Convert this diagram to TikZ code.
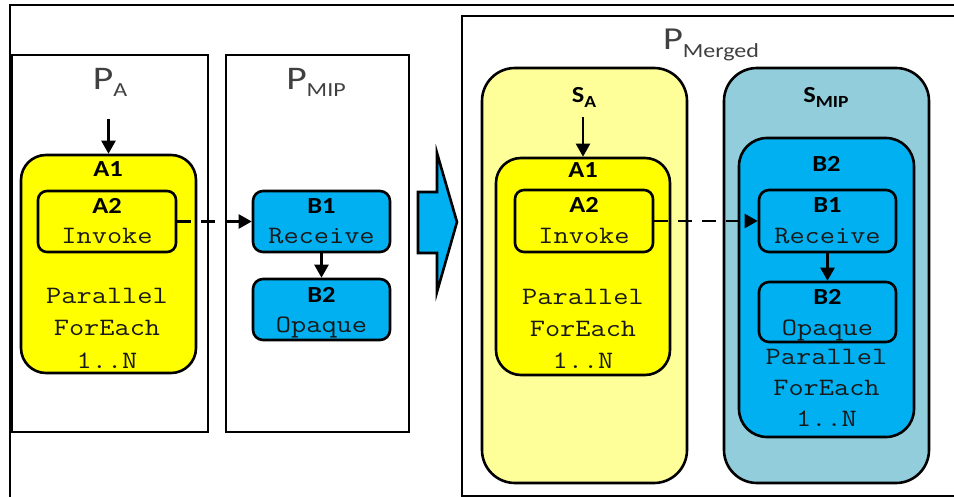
\documentclass[tikz,border=0pt]{standalone}
\usepackage{fontspec}
\usepackage{graphicx}
\setmainfont{Carlito}
\usetikzlibrary{arrows.meta}
\definecolor{actblue}{HTML}{00B0F0}
\definecolor{actyellow}{HTML}{FFFF00}
\definecolor{scopeyellow}{HTML}{FFFF99}
\definecolor{scopeblue}{HTML}{92CDDC}
\definecolor{titlegray}{HTML}{404040}
% the lettering is set slightly wide
\newcommand{\wide}[1]{\scalebox{1.15}[1]{#1}}
\newcommand{\cwide}[1]{\scalebox{1.18}[1]{#1}}
\tikzset{
  procbox/.style={draw, line width=2.6pt, inner sep=0pt},
  actbox/.style={draw, line width=2.6pt, inner sep=0pt},
  code/.style={anchor=base, inner sep=0pt, text=black!90, font=\ttfamily\fontsize{25}{25}\selectfont},
  tag/.style={anchor=base, inner sep=0pt, font=\bfseries\fontsize{23}{23}\selectfont},
  ptitle/.style={anchor=base, inner sep=0pt, text=titlegray},
  flow/.style={line width=2.4pt, -{Triangle[length=13pt,width=14pt]}},
  msg/.style={flow, dash pattern=on 14pt off 10pt},
}
\newcommand{\ptext}[2]{\scalebox{1.2}[1]{{\fontsize{33}{33}\selectfont #1}\raisebox{-7pt}{\fontsize{20}{20}\selectfont #2}}}
\newcommand{\stext}[2]{\wide{{\bfseries\fontsize{23}{23}\selectfont #1}\raisebox{-5pt}{\bfseries\fontsize{17}{17}\selectfont #2}}}
\begin{document}
\begin{tikzpicture}[x=1pt,y=-1pt]
\clip (0,0) rectangle (954,497);
\fill[white] (0,0) rectangle (954,497);

% surrounding frame and the three process frames
\draw[line width=1.8pt] (10,5) rectangle (1000,560);
\node[procbox, minimum width=196pt, minimum height=377pt] (pa) at (110,243.5) {};
\node[procbox, minimum width=183pt, minimum height=377pt] (pmip) at (317.5,243.5) {};
\draw[line width=2.4pt] (462,16) rectangle (1000,496);

% process titles
\node[ptitle] (pa-t) at (110,90) {\ptext{P}{A}};
\node[ptitle] (pmip-t) at (316,90) {\ptext{P}{MIP}};
\node[ptitle] (pm-t) at (711,50) {\scalebox{1.2}[1]{{\fontsize{32}{32}\selectfont P}\raisebox{-8pt}{\fontsize{20}{20}\selectfont Merged}}};

% ---- process A ----
\node[actbox, fill=actyellow, rounded corners=25pt, minimum width=175pt, minimum height=218pt] (a1) at (108.5,264) {};
\node[actbox, rounded corners=9pt, minimum width=138pt, minimum height=61pt] (a2) at (107,221.5) {};
\node[tag] (a1-t) at (108,177) {\wide{A1}};
\node[tag] (a2-t) at (107,214) {\wide{A2}};
\node[code] (a2-c) at (107,244) {\cwide{Invoke}};
\node[code] (a1-c1) at (107,304) {\cwide{Parallel}};
\node[code] (a1-c2) at (107,336) {\cwide{ForEach}};
\node[code] (a1-c3) at (107,368) {\cwide{1..N}};
\coordinate (pa-in) at (108.5,119);
\draw[flow] (pa-in) -- (a1.north);

% ---- process MIP ----
\node[actbox, fill=actblue, rounded corners=10pt, minimum width=137pt, minimum height=61pt] (b1) at (321.5,221.5) {};
\node[actbox, fill=actblue, rounded corners=10pt, minimum width=137pt, minimum height=61pt] (b2) at (321.5,309.5) {};
\node[tag] (b1-t) at (321.5,214) {\wide{B1}};
\node[code] (b1-c) at (321.5,244) {\cwide{Receive}};
\node[tag] (b2-t) at (321.5,303) {\wide{B2}};
\node[code] (b2-c) at (321.5,333) {\cwide{Opaque}};
\draw[flow] (b1) -- (b2);
\draw[msg] (a2) -- (b1);

% ---- merge arrow ----
\draw[line width=2.6pt, fill=actblue, line join=miter]
  (418,192) -- (437,192) -- (437,153) -- (457,222) -- (437,292) -- (437,253) -- (418,253) -- cycle;

% ---- merged process ----
\node[actbox, fill=scopeyellow, rounded corners=33pt, minimum width=205pt, minimum height=415pt] (sa) at (584.5,275.5) {};
\node[actbox, fill=scopeblue, rounded corners=33pt, minimum width=205pt, minimum height=415pt] (smip) at (826.5,275.5) {};
\node[anchor=base, inner sep=0pt] (sa-t) at (584,103) {\stext{S}{A}};
\node[anchor=base, inner sep=0pt] (smip-t) at (826,103) {\stext{S}{MIP}};

\node[actbox, fill=actyellow, rounded corners=25pt, minimum width=174pt, minimum height=217pt] (ma1) at (583,266.5) {};
\node[actbox, rounded corners=9pt, minimum width=138pt, minimum height=62pt] (ma2) at (584,221) {};
\node[tag] (ma1-t) at (583,178) {\wide{A1}};
\node[tag] (ma2-t) at (584,213) {\wide{A2}};
\node[code] (ma2-c) at (584,244) {\cwide{Invoke}};
\node[code] (ma1-c1) at (583,305) {\cwide{Parallel}};
\node[code] (ma1-c2) at (583,337) {\cwide{ForEach}};
\node[code] (ma1-c3) at (583,368) {\cwide{1..N}};
\coordinate (sa-in) at (583,117);
\draw[flow] (sa-in) -- (ma1.north);

\node[actbox, fill=actblue, rounded corners=28pt, minimum width=175pt, minimum height=299pt] (mb2o) at (826.5,287.5) {};
\node[tag] (mb2o-t) at (826.5,172) {\wide{B2}};
\node[actbox, rounded corners=10pt, minimum width=137pt, minimum height=62pt] (mb1) at (827.5,221) {};
\node[actbox, rounded corners=10pt, minimum width=137pt, minimum height=60pt] (mb2) at (827.5,312) {};
\node[tag] (mb1-t) at (827.5,213) {\wide{B1}};
\node[code] (mb1-c) at (827.5,244) {\cwide{Receive}};
\node[tag] (mb2-t) at (827.5,305) {\wide{B2}};
\node[code] (mb2-c) at (827.5,335) {\cwide{Opaque}};
\node[code] (mb2o-c1) at (826.5,364) {\cwide{Parallel}};
\node[code] (mb2o-c2) at (826.5,395) {\cwide{ForEach}};
\node[code] (mb2o-c3) at (826.5,426) {\cwide{1..N}};
\draw[flow] (mb1) -- (mb2);
\draw[msg] (ma2) -- (mb1);
\end{tikzpicture}
\end{document}
